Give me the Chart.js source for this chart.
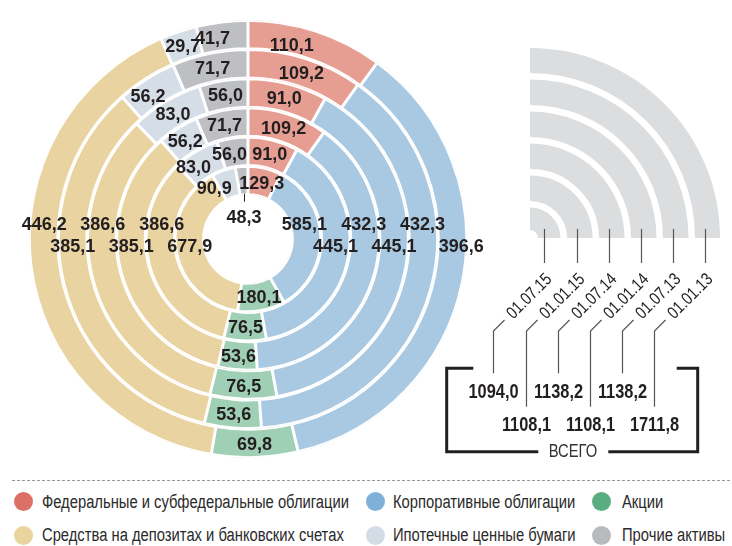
<!DOCTYPE html>
<html>
<head>
<meta charset="utf-8">
<script src="https://cdn.jsdelivr.net/npm/chart.js@4.4.0/dist/chart.umd.min.js"></script>
<style>
html,body{margin:0;padding:0;background:#fff;}
#wrap{position:relative;width:732px;height:546px;overflow:hidden;background:#fff;}
#main{position:absolute;left:0;top:0;}
#deco{position:absolute;left:440px;top:0;}
#sep{position:absolute;left:12px;width:720px;top:480px;height:1px;
  background:repeating-linear-gradient(to right,#9a9a9a 0 3px,transparent 3px 5px);}
.leg{position:absolute;font-family:"Liberation Sans",Arial,sans-serif;
  font-size:18px;color:#2a2a2a;white-space:nowrap;line-height:20px;height:20px;
  transform:scaleX(0.82);transform-origin:0 50%;}
.dot{position:absolute;width:19px;height:19px;border-radius:50%;}
</style>
</head>
<body>
<div id="wrap">
  <canvas id="main" width="732" height="470"></canvas>
  <canvas id="deco" width="292" height="470"></canvas>
  <div id="sep"></div>
  <div id="legend"></div>
</div>
<script>
// ---------- DATA ----------
const categories = [
  'Федеральные и субфедеральные облигации',
  'Корпоративные облигации',
  'Акции',
  'Средства на депозитах и банковских счетах',
  'Ипотечные ценные бумаги',
  'Прочие активы'
];
// rings, from outer to inner
const dates = ['01.07.15', '01.01.15', '01.07.14', '01.01.14', '01.07.13', '01.01.13'];
const federal   = [110.1, 109.2,  91.0, 109.2,  91.0, 129.3];
const corporate = [396.6, 432.3, 445.1, 432.3, 445.1, 585.1];
const shares    = [ 69.8,  53.6,  76.5,  53.6,  76.5, 180.1];
const deposits  = [446.2, 385.1, 386.6, 385.1, 386.6, 677.9];
const mortgage  = [ 29.7,  56.2,  83.0,  56.2,  83.0,  90.9];
const other     = [ 41.7,  71.7,  56.0,  71.7,  56.0,  48.3];
const totals    = [1094.0, 1108.1, 1138.2, 1108.1, 1138.2, 1711.8];
const totalLabel = 'ВСЕГО';

// ---------- STYLE ----------
const ringColors   = ['#e79e92', '#a9c9e2', '#9fcfb4', '#e9d3a0', '#d5dde6', '#bebfc3'];
const legendColors = ['#dc6f66', '#7fb1d8', '#5aad81', '#e9d39f', '#d4dde6', '#b9babe'];
const INK = '#231f20';
const NARROW = 0.82;
const fmt = v => v.toFixed(1).replace('.', ',');

const series = [federal, corporate, shares, deposits, mortgage, other];

// label placement tweaks: key "ring-category"
const ROW_UP = -16, ROW_DOWN = 6;
const labelNudge = {
  '0-0': {t: 0.35, dr: -5},
  '0-1': {dr: 9},
  '0-5': {t: 0.27},
  '1-4': {t: 0.37},
  '4-4': {t: 0.27, dr: 3},
  '5-4': {t: -0.2, dr: 3},
  '4-5': {t: 0.31}
};

function narrowText(ctx, txt, x, y, rot, sx) {
  ctx.save();
  ctx.translate(x, y);
  if (rot) ctx.rotate(rot);
  ctx.scale(sx || NARROW, 1);
  ctx.fillText(txt, 0, 0);
  ctx.restore();
}

const ringLabels = {
  id: 'ringLabels',
  afterDatasetsDraw(chart) {
    const ctx = chart.ctx;
    ctx.save();
    ctx.font = 'bold 18px "Liberation Sans", Arial, sans-serif';
    ctx.fillStyle = INK;
    ctx.textAlign = 'center';
    ctx.textBaseline = 'alphabetic';
    const CAP = 6.5;
    chart.data.datasets.forEach((ds, r) => {
      const meta = chart.getDatasetMeta(r);
      meta.data.forEach((arc, c) => {
        const p = arc.getProps(['x', 'y', 'startAngle', 'endAngle', 'innerRadius', 'outerRadius'], true);
        const mid = (p.innerRadius + p.outerRadius) / 2;
        const n = labelNudge[r + '-' + c] || {};
        const txt = fmt(ds.data[c]);
        let x, y;
        if (c === 1 || c === 3) {
          const upper = (c === 1) ? (r % 2 === 1) : (r % 2 === 0);
          const dy = upper ? ROW_UP : ROW_DOWN;
          const rad = mid + (n.dr || 0);
          const dx = Math.sqrt(rad * rad - dy * dy);
          x = p.x + (c === 1 ? dx : -dx);
          y = p.y + dy;
        } else if (r === chart.data.datasets.length - 1 && c === 5) {
          // small slice: callout below
          const a = (p.startAngle + p.endAngle) / 2;
          const ir = p.innerRadius + 1.5;
          const sx = p.x + ir * Math.cos(a), sy = p.y + ir * Math.sin(a);
          ctx.save();
          ctx.strokeStyle = INK; ctx.lineWidth = 1;
          ctx.beginPath();
          ctx.moveTo(Math.round(sx) + 0.5, sy);
          ctx.lineTo(Math.round(sx) + 0.5, sy + 8);
          ctx.stroke();
          ctx.restore();
          x = sx; y = sy + 23;
        } else {
          const t = (n.t !== undefined) ? n.t : 0.5;
          const a = p.startAngle + (p.endAngle - p.startAngle) * t;
          const rad = mid + (n.dr || 0);
          x = p.x + rad * Math.cos(a);
          y = p.y + rad * Math.sin(a);
        }
        ctx.fillText(txt, x, y + CAP);
      });
    });
    ctx.restore();
  }
};

new Chart(document.getElementById('main'), {
  type: 'doughnut',
  data: {
    labels: categories,
    datasets: dates.map((d, r) => ({
      label: d,
      data: series.map(s => s[r]),
      backgroundColor: ringColors,
      borderColor: '#ffffff',
      borderWidth: 1.5,
      hoverBorderWidth: 1.5,
      borderAlign: 'inner',
      hoverOffset: 0
    }))
  },
  options: {
    responsive: false,
    animation: false,
    events: [],
    cutout: '20.1%',
    rotation: 0,
    layout: {padding: {left: 29, top: 20, right: 265, bottom: 12}},
    plugins: {legend: {display: false}, tooltip: {enabled: false}}
  },
  plugins: [ringLabels]
});

// ---------- right decoration: quarter rings per date ----------
const decoWidths = [25, 25.5, 25.5, 25.5, 25.5, 22.5];   // outer -> inner
const decoSets = [];
for (let k = dates.length - 1, j = 0; k >= 0; k--, j++) {          // outer ring = last date
  decoSets.push({data: [totals[k]], dateIndex: k, weight: decoWidths[j], backgroundColor: '#dcdddf', borderWidth: 0, hoverOffset: 0});
  if (k > 0) decoSets.push({data: [1], weight: 6.5, backgroundColor: 'rgba(0,0,0,0)', borderWidth: 0, hoverOffset: 0});
}

const decoPlugin = {
  id: 'decoNotes',
  afterDatasetsDraw(chart) {
    const ctx = chart.ctx;
    ctx.save();
    let cx = 0, cy = 0;
    chart.data.datasets.forEach((ds, i) => {
      if (ds.dateIndex === undefined) return;
      const arc = chart.getDatasetMeta(i).data[0];
      const p = arc.getProps(['x', 'y', 'innerRadius', 'outerRadius'], true);
      cx = p.x; cy = p.y;
      const k = ds.dateIndex;
      const upper = (k % 2 === 0);
      const tx = Math.round(p.x + (p.innerRadius + p.outerRadius) / 2 - (k === 0 ? 5 : 3)) + 0.5;
      const lx = tx - 51;
      // tick
      ctx.strokeStyle = '#555'; ctx.lineWidth = 1.2;
      ctx.beginPath(); ctx.moveTo(tx, cy - 9); ctx.lineTo(tx, cy + 25); ctx.stroke();
      // leader
      ctx.beginPath();
      ctx.moveTo(tx - 40, cy + 82);
      ctx.lineTo(lx, cy + 93);
      ctx.lineTo(lx, cy + (upper ? 135.3 : 168.7));
      ctx.stroke();
      // date label
      ctx.font = '17.5px "Liberation Sans", Arial, sans-serif';
      ctx.fillStyle = '#222';
      ctx.textAlign = 'center'; ctx.textBaseline = 'middle';
      narrowText(ctx, dates[k], tx - 15, cy + 58.5, -Math.PI / 4, 0.82);
      // total value
      ctx.font = 'bold 21px "Liberation Sans", Arial, sans-serif';
      ctx.fillStyle = INK;
      ctx.textAlign = 'center'; ctx.textBaseline = 'alphabetic';
      narrowText(ctx, fmt(totals[k]), lx, cy + (upper ? 152 : 185) + 7.5, 0, 0.78);
    });
    // bracket
    ctx.strokeStyle = INK; ctx.lineWidth = 3; ctx.lineJoin = 'miter';
    ctx.beginPath();
    ctx.moveTo(cx - 56.7, cy + 130.3); ctx.lineTo(cx - 83.3, cy + 130.3);
    ctx.lineTo(cx - 83.3, cy + 213.7); ctx.lineTo(cx + 8.3, cy + 213.7);
    ctx.stroke();
    ctx.beginPath();
    ctx.moveTo(cx + 78.3, cy + 213.7); ctx.lineTo(cx + 167.7, cy + 213.7);
    ctx.lineTo(cx + 167.7, cy + 130.3); ctx.lineTo(cx + 146.7, cy + 130.3);
    ctx.stroke();
    ctx.font = '18px "Liberation Sans", Arial, sans-serif';
    ctx.fillStyle = '#333';
    ctx.textAlign = 'center'; ctx.textBaseline = 'middle';
    narrowText(ctx, totalLabel, cx + 43, cy + 213.7);
    ctx.restore();
  }
};

new Chart(document.getElementById('deco'), {
  type: 'doughnut',
  data: {labels: ['всего'], datasets: decoSets},
  options: {
    responsive: false,
    animation: false,
    events: [],
    rotation: 0,
    circumference: 90,
    cutout: (8 / 190 * 100) + '%',
    layout: {padding: {left: 90, top: 48, right: 12, bottom: 232}},
    plugins: {legend: {display: false}, tooltip: {enabled: false}}
  },
  plugins: [decoPlugin]
});

// ---------- legend ----------
const legend = document.getElementById('legend');
const colDot = [23, 375.7, 601.6], colText = [41.6, 393.3, 622.4], rowY = [501.7, 535];
categories.forEach((name, i) => {
  const col = i % 3, row = Math.floor(i / 3);
  const d = document.createElement('div');
  d.className = 'dot';
  d.style.left = (colDot[col] - 9.5) + 'px';
  d.style.top = (rowY[row] - 9.5) + 'px';
  d.style.background = legendColors[i];
  legend.appendChild(d);
  const t = document.createElement('div');
  t.className = 'leg';
  t.style.left = colText[col] + 'px';
  t.style.top = (rowY[row] - 10) + 'px';
  t.textContent = name;
  legend.appendChild(t);
});
</script>
</body>
</html>
